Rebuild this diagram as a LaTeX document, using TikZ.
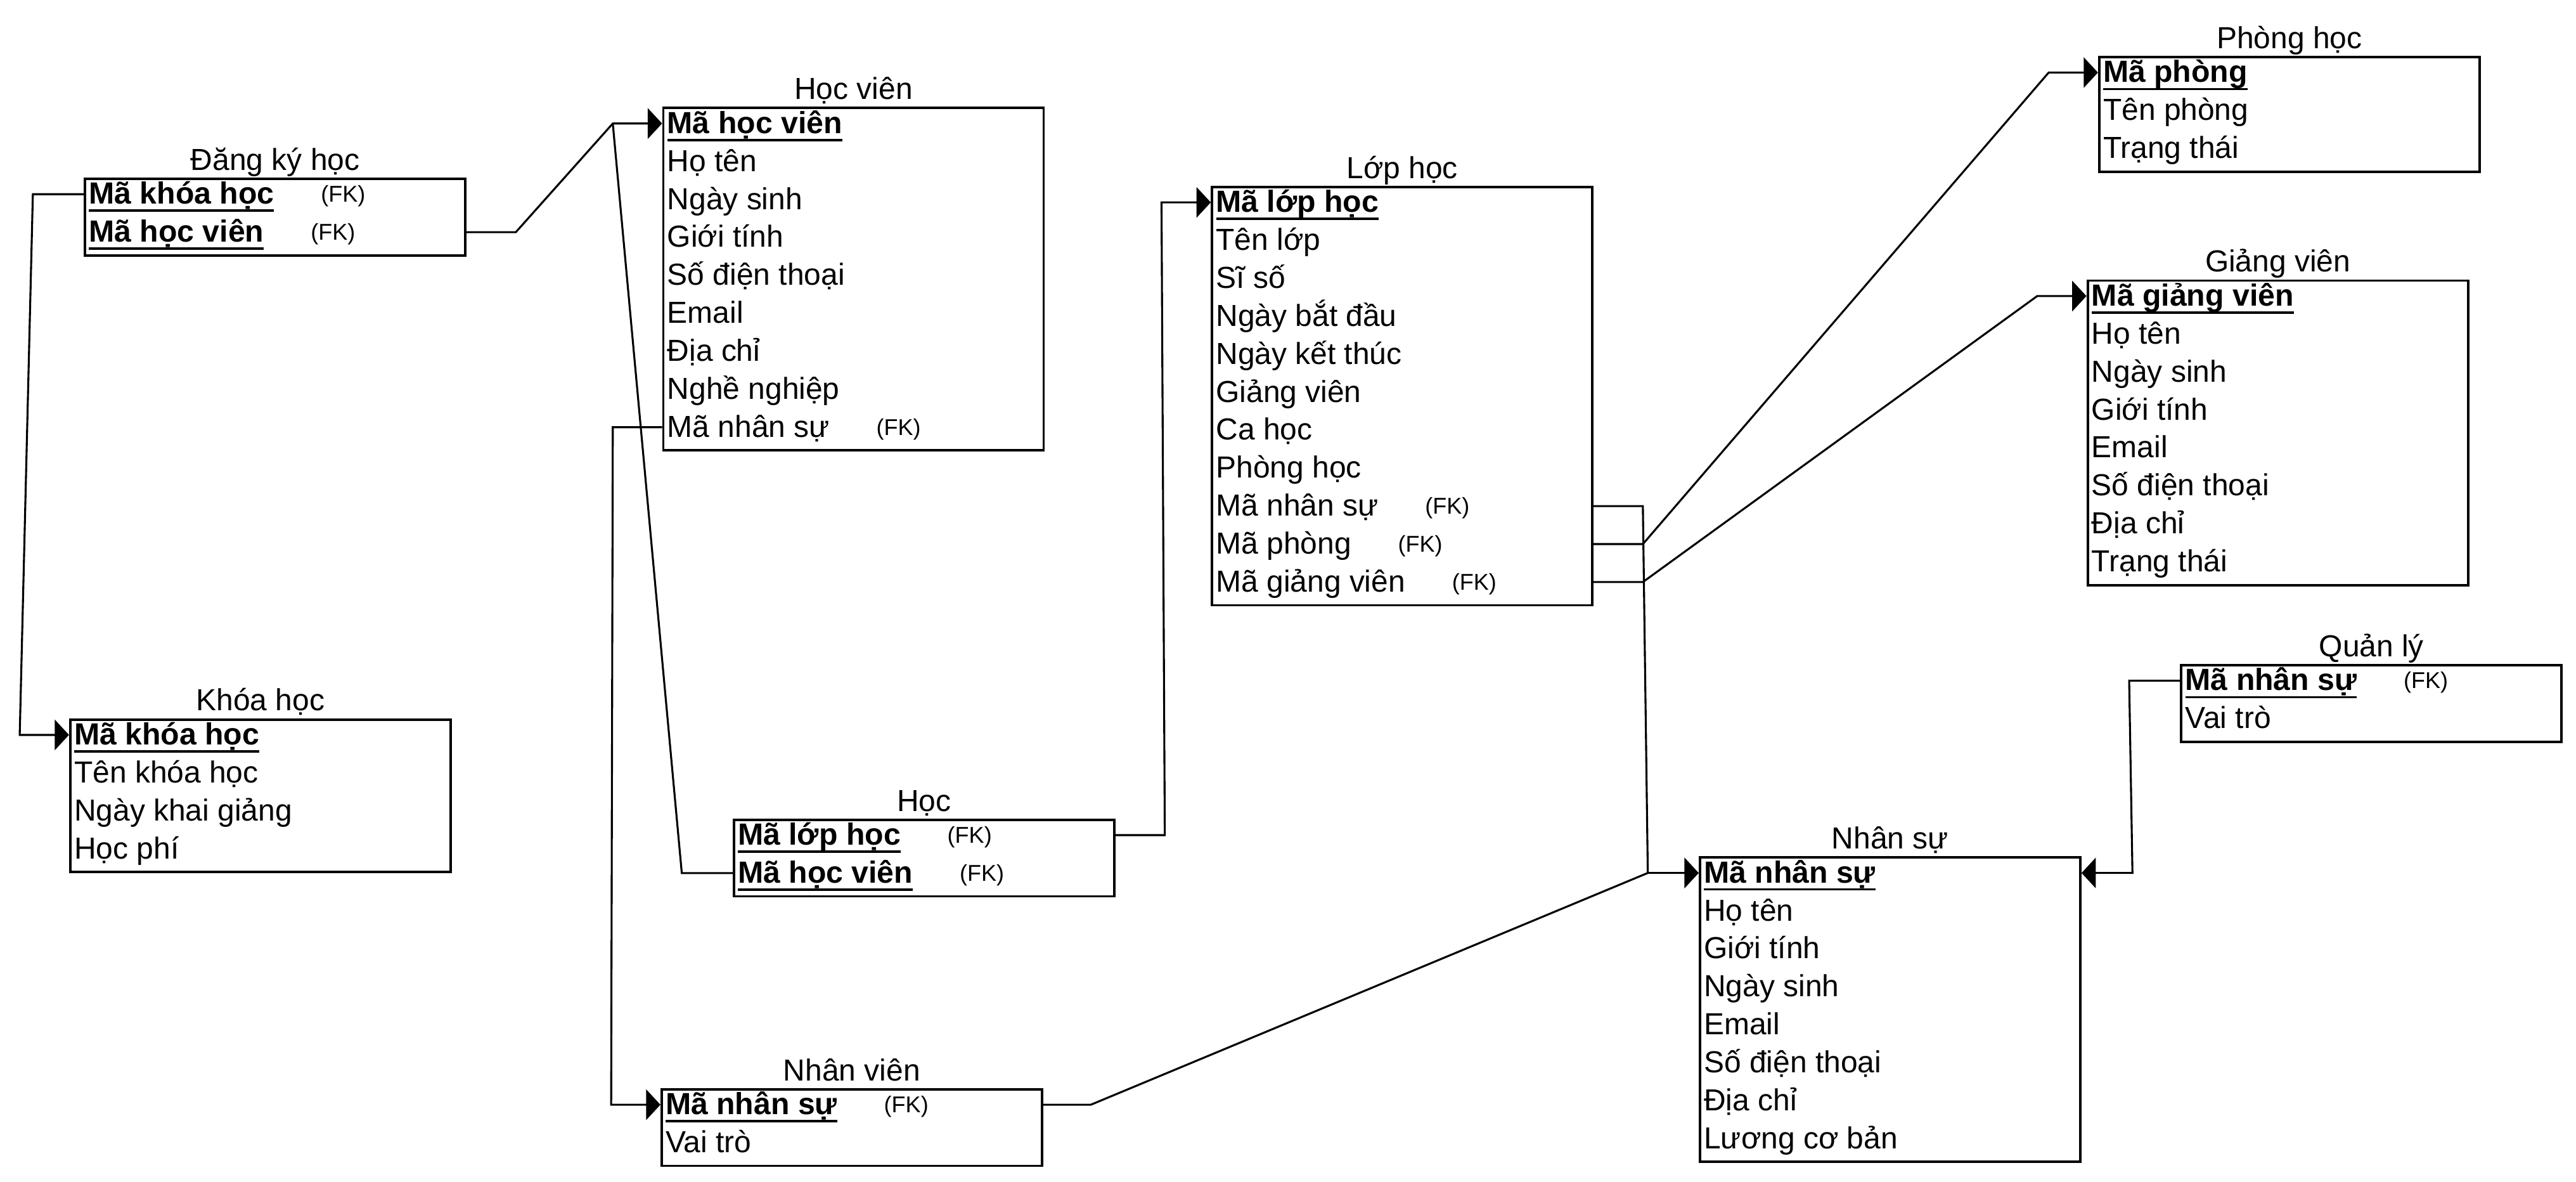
\documentclass[tikz,border=0pt]{standalone}
\usepackage{fontspec}
\setmainfont{Liberation Sans}
\usetikzlibrary{arrows.meta,calc}
\newcommand\rowfont{\fontsize{18.5}{20}\selectfont}
\newcommand\ttlfont{\fontsize{18.5}{20}\selectfont}
\newcommand\pk[1]{{\fontsize{18.6}{20}\selectfont\bfseries\setbox0\hbox{#1}\rlap{\rule[-4.7pt]{\wd0}{1.4pt}}\box0}}
\newcommand\fk{\hspace*{28.5pt}{\fontsize{13.9}{16}\selectfont\raisebox{1.2pt}{(FK)}}}
\tikzset{
  box/.style={draw, line width=1.5pt, minimum width=231.5pt, inner sep=0pt, anchor=north west},
  ttl/.style={anchor=base, inner sep=0pt, font=\ttlfont},
  rowt/.style={anchor=west, inner xsep=3pt, inner ysep=0pt, text height=12pt, text depth=0pt, font=\rowfont},
  conn/.style={line width=1.2pt},
  arr/.style={conn, -{Triangle[length=8.7pt,width=18.5pt]}},
}
\newcommand\entity[6]{%
  \node[box, minimum height={23.5+(#5-1)*23.1}] (#1) at (#2,-#3) {};
  \node[ttl] (#1t) at ($(#1.north)+(0,4.5)$) {#4};
  \foreach \t [count=\i] in {#6}{
    \node[rowt] (#1\i) at ($(#1.north west)+(0,{-10.15-(\i-1)*23.1})$) {\t};
  }
}
\begin{document}
\begin{tikzpicture}[x=1pt,y=1pt]
\useasboundingbox (0,0) rectangle (1568,-719);
\entity{dk}{51}{108}{Đăng ký học}{2}{\pk{Mã khóa học}\fk,\pk{Mã học viên}\fk}
\entity{kh}{42}{437}{Khóa học}{4}{\pk{Mã khóa học},Tên khóa học,Ngày khai giảng,Học phí}
\entity{hv}{403}{65}{Học viên}{9}{\pk{Mã học viên},Họ tên,Ngày sinh,Giới tính,Số điện thoại,Email,Địa chỉ,Nghề nghiệp,Mã nhân sự\fk}
\entity{lh}{737}{113}{Lớp học}{11}{\pk{Mã lớp học},Tên lớp,Sĩ số,Ngày bắt đầu,Ngày kết thúc,Giảng viên,Ca học,Phòng học,Mã nhân sự\fk,Mã phòng\fk,Mã giảng viên\fk}
\entity{hoc}{446}{498}{Học}{2}{\pk{Mã lớp học}\fk,\pk{Mã học viên}\fk}
\entity{nv}{402}{662}{Nhân viên}{2}{\pk{Mã nhân sự}\fk,Vai trò}
\entity{ph}{1277}{34}{Phòng học}{3}{\pk{Mã phòng},Tên phòng,Trạng thái}
\entity{gv}{1270}{170}{Giảng viên}{8}{\pk{Mã giảng viên},Họ tên,Ngày sinh,Giới tính,Email,Số điện thoại,Địa chỉ,Trạng thái}
\entity{ql}{1327}{404}{Quản lý}{2}{\pk{Mã nhân sự}\fk,Vai trò}
\entity{ns}{1034}{521}{Nhân sự}{8}{\pk{Mã nhân sự},Họ tên,Giới tính,Ngày sinh,Email,Số điện thoại,Địa chỉ,Lương cơ bản}
\coordinate (hvin) at ($(hv1.west)+(-30,0)$);
\coordinate (nsin) at ($(ns1.west)+(-31,0)$);
\coordinate (khin) at ($(kh1.west)+(-30,0)$);
\coordinate (nvin) at ($(nv1.west)+(-30,0)$);
\coordinate (lhin) at ($(lh1.west)+(-30,0)$);
\coordinate (phin) at ($(ph1.west)+(-30,0)$);
\coordinate (gvin) at ($(gv1.west)+(-30,0)$);
\coordinate (nsr) at (ns1 -| ns.east);
\coordinate (nsrin) at ($(nsr)+(31,0)$);
\draw[arr] (dk1.west) -- ++(-31,0) -- (khin) -- (kh1.west);
\draw[arr] (dk2 -| dk.east) -- ++(30,0) -- (hvin) -- (hv1.west);
\draw[conn] (hoc2.west) -- ++(-31,0) -- (hvin);
\draw[arr] (hv9.west) -- ++(-30,0) -- (nvin) -- (nv1.west);
\draw[arr] (nv1 -| nv.east) -- ++(29,0) -- (nsin) -- (ns1.west);
\draw[arr] (hoc1 -| hoc.east) -- ++(30,0) -- (lhin) -- (lh1.west);
\draw[conn] (lh9 -| lh.east) -- ++(30,0) -- (nsin);
\draw[arr] (lh10 -| lh.east) -- ++(30,0) -- (phin) -- (ph1.west);
\draw[arr] (lh11 -| lh.east) -- ++(30,0) -- (gvin) -- (gv1.west);
\draw[arr] (ql1.west) -- ++(-31,0) -- (nsrin) -- (nsr);
\end{tikzpicture}
\end{document}
